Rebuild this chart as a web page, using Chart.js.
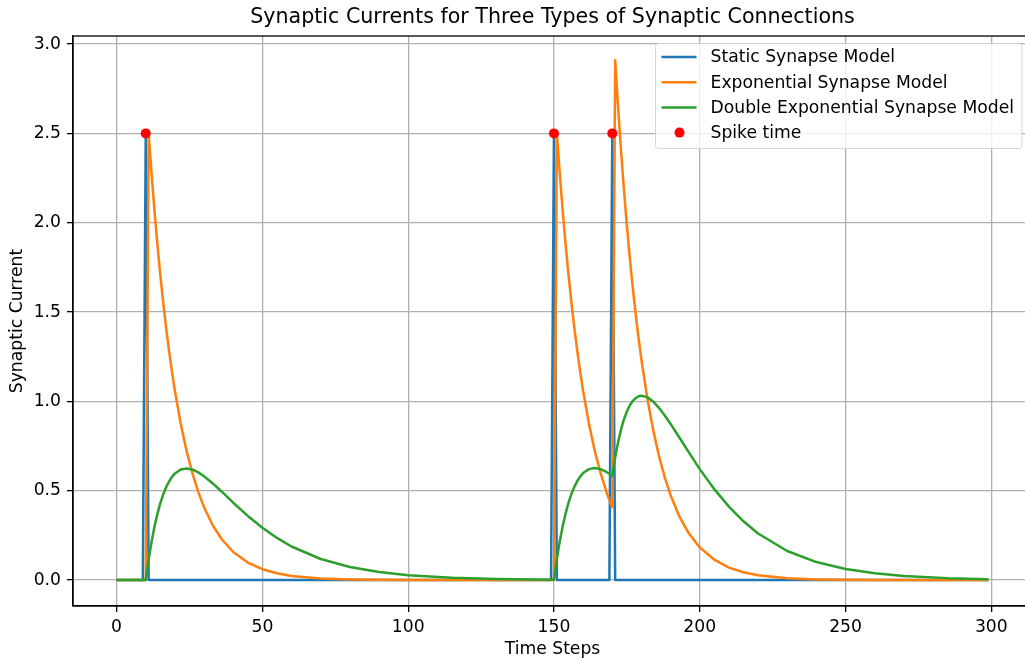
<!DOCTYPE html>
<html>
<head>
<meta charset="utf-8">
<script src="https://cdn.jsdelivr.net/npm/chart.js@4.4.1/dist/chart.umd.min.js"></script>
<style>
  html, body { margin: 0; padding: 0; background: #fff; overflow: hidden; }
  #wrap { position: relative; width: 1040px; height: 661px; }
</style>
</head>
<body>
<div id="wrap"><canvas id="c"></canvas></div>
<script>
// ---- data ----
const staticSteps  = [0, 9, 10, 11, 149, 150, 151, 169, 170, 171, 299];
const staticValues = [0, 0, 2.5, 0, 0, 2.5, 0, 0, 2.5, 0, 0];

const steps = [0,10,11,12,13,14,15,16,17,18,19,20,22,24,26,28,30,33,36,40,45,50,55,60,70,80,90,100,115,130,149,150,
  151,152,153,154,155,156,157,158,159,160,162,164,166,168,169,170,
  171,172,173,174,175,176,177,178,179,180,182,184,186,188,190,193,196,200,205,210,215,220,230,240,250,260,270,285,299];

const expValues = [0,0,2.5,2.273,2.066,1.878,1.707,1.551,1.410,1.282,1.165,1.059,0.875,0.723,0.598,0.494,0.408,0.306,0.230,0.157,0.098,0.061,0.038,0.023,0.009,0.0035,0.0013,0.0005,0.0001,0,0,0,
  2.5,2.273,2.066,1.878,1.707,1.551,1.410,1.282,1.165,1.059,0.875,0.723,0.598,0.494,0.449,0.408,
  2.91,2.645,2.405,2.186,1.987,1.806,1.642,1.492,1.356,1.233,1.019,0.842,0.696,0.575,0.475,0.357,0.268,0.183,0.114,0.070,0.044,0.027,0.010,0.004,0.0015,0.0006,0.0002,0.0001,0];

const dblValues = [0,0,0.116,0.215,0.300,0.371,0.431,0.480,0.520,0.552,0.578,0.597,0.619,0.625,0.619,0.603,0.581,0.541,0.496,0.433,0.359,0.293,0.236,0.188,0.118,0.073,0.045,0.0275,0.013,0.0062,0.0024,0.0023,
  0.118,0.217,0.302,0.373,0.433,0.482,0.522,0.554,0.580,0.599,0.621,0.627,0.621,0.605,0.595,0.583,
  0.687,0.772,0.843,0.899,0.944,0.978,1.002,1.018,1.029,1.032,1.024,1.000,0.964,0.921,0.874,0.798,0.722,0.621,0.509,0.411,0.329,0.261,0.163,0.101,0.062,0.038,0.023,0.011,0.005];

const spikeTimes  = [10, 150, 170];
const spikeValues = [2.5, 2.5, 2.5];

const xTicks = [0, 50, 100, 150, 200, 250, 300];
const xTickLabels = ['0', '50', '100', '150', '200', '250', '300'];
const yTicks = [0, 0.5, 1.0, 1.5, 2.0, 2.5, 3.0];
const yTickLabels = ['0.0', '0.5', '1.0', '1.5', '2.0', '2.5', '3.0'];

const seriesLabels = ['Static Synapse Model', 'Exponential Synapse Model', 'Double Exponential Synapse Model', 'Spike time'];
const chartTitle = 'Synaptic Currents for Three Types of Synaptic Connections';
const xTitle = 'Time Steps';
const yTitle = 'Synaptic Current';

// ---- chart ----
const FONT = "'DejaVu Sans', 'Liberation Sans', sans-serif";
const FS = 17.2;
Chart.defaults.font.family = FONT;
Chart.defaults.color = '#000';

const pts = (xs, ys) => xs.map((x, i) => ({ x: x, y: ys[i] }));

const lineDs = (label, xs, ys, color, order) => ({
  type: 'line', label, data: pts(xs, ys), borderColor: color, backgroundColor: color,
  borderWidth: 2.5, pointRadius: 0, pointHoverRadius: 0, tension: 0, fill: false,
  borderJoinStyle: 'round', borderCapStyle: 'butt', order
});

const frameAndLegend = {
  id: 'frameAndLegend',
  afterDatasetsDraw(chart) {
    const { ctx, chartArea: a } = chart;
    ctx.save();
    ctx.strokeStyle = '#000';
    ctx.lineWidth = 1.3;
    ctx.strokeRect(a.left, a.top, a.right - a.left, a.bottom - a.top);
    ctx.restore();
  },
  afterDraw(chart) {
    const { ctx, chartArea: a } = chart;
    const ds = chart.data.datasets;
    const entries = [ds[0], ds[1], ds[2], ds[3]];
    ctx.save();
    ctx.font = FS + 'px ' + FONT;
    let maxW = 0;
    entries.forEach(e => { maxW = Math.max(maxW, ctx.measureText(e.label).width); });
    const w = 55 + maxW + 8;
    const h = 105;
    const right = a.right - 10;
    const top = a.top + 7.5;
    const left = right - w;
    const r = 3;
    ctx.beginPath();
    ctx.moveTo(left + r, top);
    ctx.lineTo(left + w - r, top);
    ctx.quadraticCurveTo(left + w, top, left + w, top + r);
    ctx.lineTo(left + w, top + h - r);
    ctx.quadraticCurveTo(left + w, top + h, left + w - r, top + h);
    ctx.lineTo(left + r, top + h);
    ctx.quadraticCurveTo(left, top + h, left, top + h - r);
    ctx.lineTo(left, top + r);
    ctx.quadraticCurveTo(left, top, left + r, top);
    ctx.closePath();
    ctx.fillStyle = 'rgba(255,255,255,0.8)';
    ctx.fill();
    ctx.strokeStyle = 'rgba(204,204,204,0.8)';
    ctx.lineWidth = 1;
    ctx.stroke();
    entries.forEach((e, i) => {
      const cy = top + 13.5 + i * 25.2;
      if (e.type === 'scatter') {
        ctx.beginPath();
        ctx.fillStyle = e.backgroundColor;
        ctx.arc(left + 24, cy, 5, 0, Math.PI * 2);
        ctx.fill();
      } else {
        ctx.beginPath();
        ctx.strokeStyle = e.borderColor;
        ctx.lineWidth = 2.5;
        ctx.moveTo(left + 6, cy);
        ctx.lineTo(left + 41, cy);
        ctx.stroke();
      }
      ctx.fillStyle = '#000';
      ctx.textAlign = 'left';
      ctx.textBaseline = 'middle';
      ctx.fillText(e.label, left + 55, cy + 1);
    });
    ctx.restore();
  }
};

new Chart(document.getElementById('c'), {
  data: {
    datasets: [
      lineDs(seriesLabels[0], staticSteps, staticValues, '#1f77b4', 4),
      lineDs(seriesLabels[1], steps, expValues, '#ff7f0e', 3),
      lineDs(seriesLabels[2], steps, dblValues, '#2ca02c', 2),
      {
        type: 'scatter', label: seriesLabels[3], data: pts(spikeTimes, spikeValues),
        backgroundColor: '#ff0000', borderColor: '#ff0000', borderWidth: 0,
        pointRadius: 5, pointHoverRadius: 5, showLine: false, order: 1
      }
    ]
  },
  options: {
    responsive: true,
    maintainAspectRatio: false,
    animation: false,
    events: [],
    layout: { padding: { left: 0, right: 8, top: 0, bottom: 0 } },
    plugins: {
      legend: { display: false },
      tooltip: { enabled: false },
      title: {
        display: true, text: chartTitle, fullSize: false, color: '#000',
        font: { size: 20.6, weight: 'normal', family: FONT, lineHeight: 1.2 },
        padding: { top: 5.5, bottom: 5.8 }
      }
    },
    scales: {
      x: {
        type: 'linear', min: -14.95, max: 313.95,
        afterBuildTicks: (s) => { s.ticks = xTicks.map(v => ({ value: v })); },
        afterFit: (s) => { s.height = 55; },
        ticks: {
          callback: (v, i) => xTickLabels[i], font: { size: FS, family: FONT },
          color: '#000', padding: 5, maxRotation: 0, autoSkip: false
        },
        grid: { color: '#b0b0b0', lineWidth: 1.3, drawTicks: true, tickLength: 6, tickColor: '#000', tickWidth: 1.3 },
        border: { display: true, color: '#000', width: 1.3 },
        title: { display: true, text: xTitle, color: '#000', font: { size: FS, family: FONT, lineHeight: 1.2 }, padding: { top: 0, bottom: 0.7 } }
      },
      y: {
        type: 'linear', min: -0.145, max: 3.045,
        afterBuildTicks: (s) => { s.ticks = yTicks.map(v => ({ value: v })); },
        afterFit: (s) => { s.width = 73; },
        ticks: {
          callback: (v, i) => yTickLabels[i], font: { size: FS, family: FONT },
          color: '#000', padding: 6, autoSkip: false
        },
        grid: { color: '#b0b0b0', lineWidth: 1.3, drawTicks: true, tickLength: 6, tickColor: '#000', tickWidth: 1.3 },
        border: { display: true, color: '#000', width: 1.3 },
        title: { display: true, text: yTitle, color: '#000', font: { size: FS, family: FONT, lineHeight: 1.2 }, padding: { top: 7.7, bottom: 0 } }
      }
    }
  },
  plugins: [frameAndLegend]
});
</script>
</body>
</html>
